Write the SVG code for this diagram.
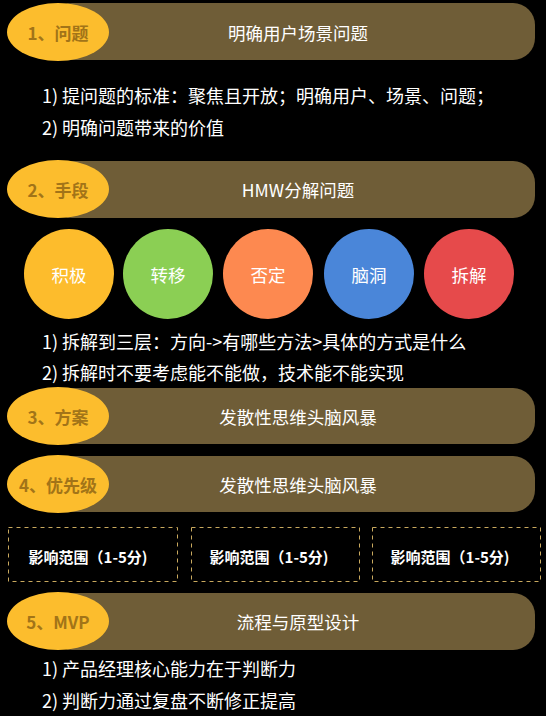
<svg xmlns="http://www.w3.org/2000/svg" width="546" height="716" viewBox="0 0 546 716">
<style>
.bar{fill:#6f5d37}
.tag{fill:#fcbd2d}
.tagt{font-family:"Noto Sans CJK SC","Noto Sans",sans-serif;font-weight:bold;font-size:17px;fill:#a27418;text-anchor:middle;dominant-baseline:central}
.bart{font-family:"Noto Sans CJK SC","Noto Sans",sans-serif;font-size:17.5px;fill:#ffffff;text-anchor:middle;dominant-baseline:central}
.body{font-family:"Noto Sans CJK SC","Noto Sans",sans-serif;font-size:18px;fill:#ffffff;dominant-baseline:central}
.circ{font-family:"Noto Sans CJK SC","Noto Sans",sans-serif;font-size:17.5px;fill:#ffffff;text-anchor:middle;dominant-baseline:central}
.box{fill:none;stroke:#c9a95e;stroke-width:1;stroke-dasharray:4 4}
.boxt{font-family:"Noto Sans CJK SC","Noto Sans",sans-serif;font-weight:bold;font-size:15px;fill:#ffffff;text-anchor:middle;dominant-baseline:central}
</style>
<rect width="546" height="716" fill="#000"/>
<g id="s1">
<rect class="bar" x="50" y="3" width="485" height="57" rx="22"/>
<ellipse class="tag" cx="58" cy="32" rx="51" ry="29"/>
<text class="tagt" x="58" y="32">1、问题</text>
<text class="bart" x="298" y="32">明确用户场景问题</text>
<text class="body" x="42" y="95">1) 提问题的标准：聚焦且开放；明确用户、场景、问题；</text>
<text class="body" x="42" y="127">2) 明确问题带来的价值</text>
</g>
<g id="s2">
<rect class="bar" x="50" y="161" width="485" height="57" rx="22"/>
<ellipse class="tag" cx="58" cy="189" rx="51" ry="29"/>
<text class="tagt" x="58" y="189">2、手段</text>
<text class="bart" x="298" y="189">HMW分解问题</text>
</g>
<g id="c1"><circle cx="69" cy="274" r="45" fill="#fdbc2c"/><text class="circ" x="69" y="274">积极</text></g>
<g id="c2"><circle cx="168" cy="274" r="45" fill="#8bcf54"/><text class="circ" x="168" y="274">转移</text></g>
<g id="c3"><circle cx="268" cy="274" r="45" fill="#fd8950"/><text class="circ" x="268" y="274">否定</text></g>
<g id="c4"><circle cx="369" cy="274" r="45" fill="#4a86d9"/><text class="circ" x="369" y="274">脑洞</text></g>
<g id="c5"><circle cx="469" cy="274" r="45" fill="#e64a4b"/><text class="circ" x="469" y="274">拆解</text></g>
<g id="s2t">
<text class="body" x="42" y="341">1) 拆解到三层：方向-&gt;有哪些方法&gt;具体的方式是什么</text>
<text class="body" x="42" y="372">2) 拆解时不要考虑能不能做，技术能不能实现</text>
</g>
<g id="s3">
<rect class="bar" x="50" y="388" width="485" height="56" rx="22"/>
<ellipse class="tag" cx="58" cy="416" rx="51" ry="29"/>
<text class="tagt" x="58" y="416">3、方案</text>
<text class="bart" x="298" y="416">发散性思维头脑风暴</text>
</g>
<g id="s4">
<rect class="bar" x="50" y="456" width="485" height="56" rx="22"/>
<ellipse class="tag" cx="58" cy="484" rx="51" ry="29"/>
<text class="tagt" x="58" y="484">4、优先级</text>
<text class="bart" x="298" y="484">发散性思维头脑风暴</text>
</g>
<g id="b1"><rect class="box" x="8.5" y="527.5" width="169" height="54"/><text class="boxt" x="88" y="556">影响范围（1-5分)</text></g>
<g id="b2"><rect class="box" x="191.5" y="527.5" width="168" height="54"/><text class="boxt" x="269" y="556">影响范围（1-5分)</text></g>
<g id="b3"><rect class="box" x="372.5" y="527.5" width="168" height="54"/><text class="boxt" x="450" y="556">影响范围（1-5分)</text></g>
<g id="s5">
<rect class="bar" x="50" y="593" width="485" height="57" rx="22"/>
<ellipse class="tag" cx="58" cy="621" rx="51" ry="29"/>
<text class="tagt" x="58" y="621">5、MVP</text>
<text class="bart" x="298" y="621">流程与原型设计</text>
<text class="body" x="42" y="668">1) 产品经理核心能力在于判断力</text>
<text class="body" x="42" y="700">2) 判断力通过复盘不断修正提高</text>
</g>
<g id="connectors"></g>
</svg>
